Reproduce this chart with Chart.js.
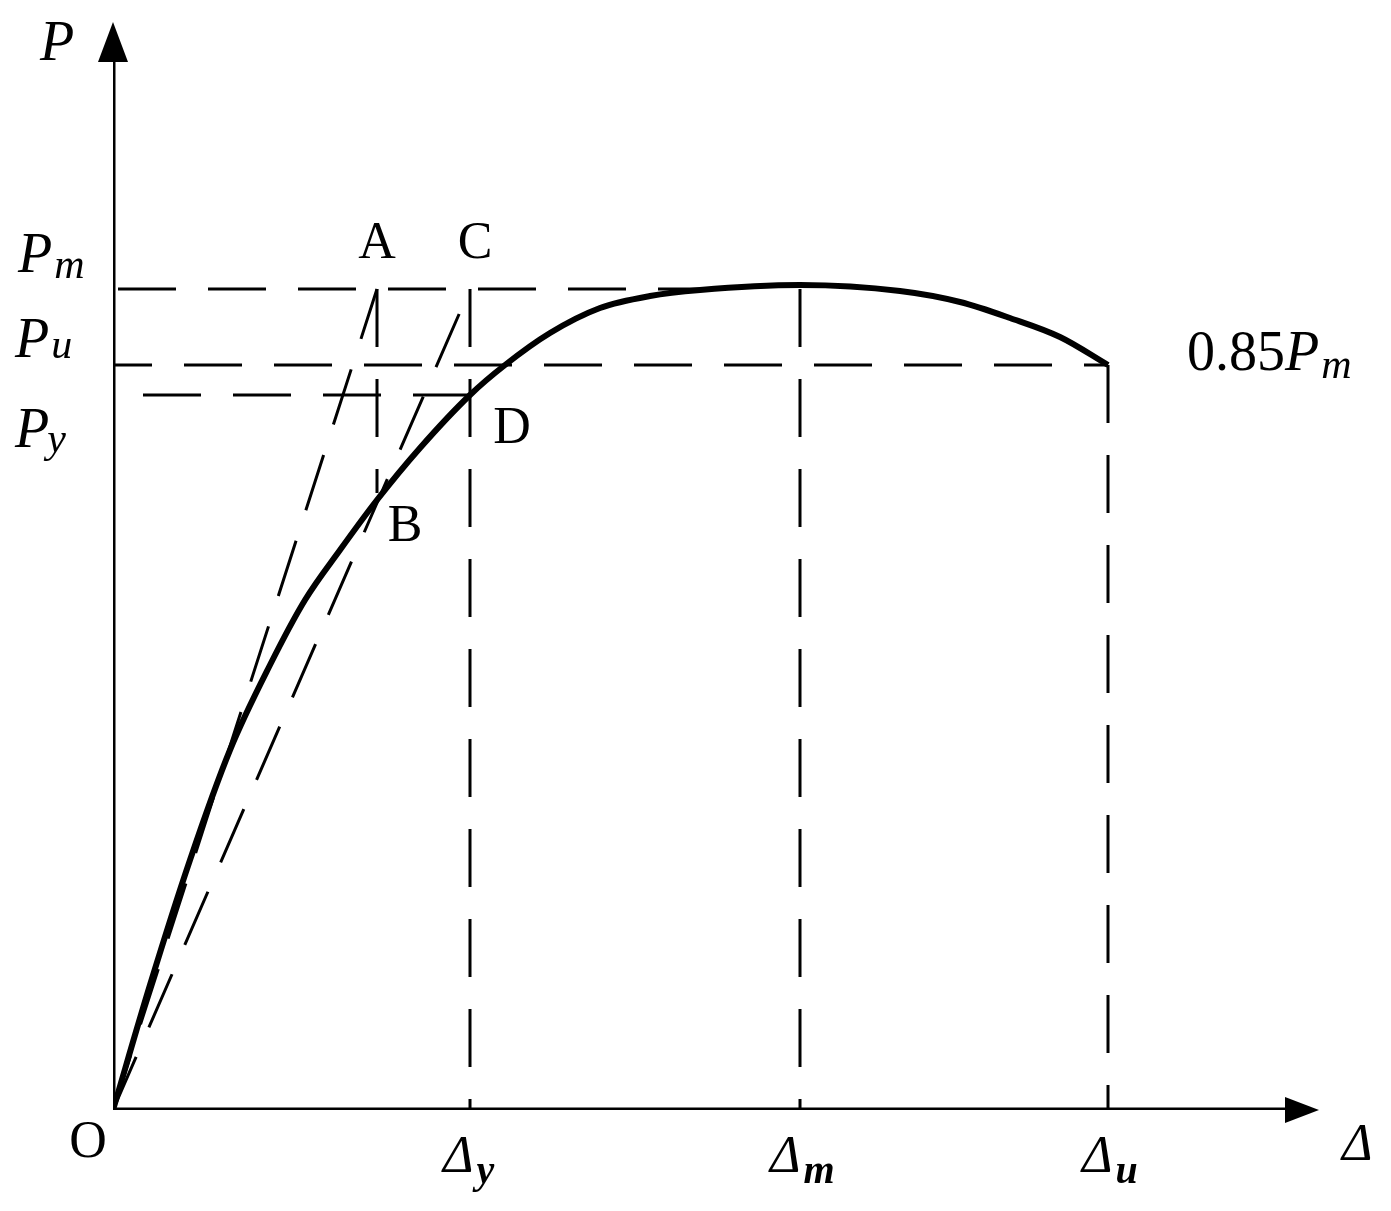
<!DOCTYPE html>
<html>
<head>
<meta charset="utf-8">
<script src="https://cdn.jsdelivr.net/npm/chart.js@4"></script>
<style>
  body { margin: 0; background: #fff; }
  canvas { display: block; }
</style>
</head>
<body>
<canvas id="chart" width="1391" height="1211"></canvas>
<script>
// skeleton curve (displacement, load)
const curveX = [0, 37, 77, 117, 157, 192, 227, 264, 307, 357, 392, 437, 487, 537, 587, 687, 787, 847, 897, 947, 995];
const curveY = [0, 125, 250, 360, 445, 510, 560, 610, 662, 715, 745, 777, 802, 814, 820, 825, 819, 808, 792, 773, 745];

// characteristic displacements and loads
const dispA = 264;   // A / B
const dispY = 357;   // Δy
const dispM = 687;   // Δm
const dispU = 995;   // Δu
const loadM = 821;   // Pm
const loadU = 745;   // Pu = 0.85Pm
const loadY = 715;   // Py
const loadB = 617;   // B
const loadSecC = 800;

// axis extents
const axisX = [0, 1175];
const axisY = [0, 1050];
const xMax = 1207;
const yMax = 1090;

const labels = {
  p: 'P', a: 'A', b: 'B', c: 'C', d: 'D', o: 'O',
  coef: '0.85', delta: 'Δ'
};

function seg(x1, y1, x2, y2) {
  return [{ x: x1, y: y1 }, { x: x2, y: y2 }];
}

const dash = { borderColor: '#000', borderWidth: 3, borderDash: [58, 32], pointRadius: 0, showLine: true, fill: false };

const datasets = [
  { data: curveX.map((x, i) => ({ x: x, y: curveY[i] })), borderColor: '#000', borderWidth: 6,
    cubicInterpolationMode: 'monotone', pointRadius: 0, showLine: true, fill: false },
  Object.assign({ data: seg(5, loadM, 607, loadM) }, dash),
  Object.assign({ data: seg(0, loadU, dispU, loadU), borderDashOffset: 19 }, dash),
  Object.assign({ data: seg(30, loadY, dispY, loadY) }, dash),
  Object.assign({ data: seg(dispA, loadM, dispA, loadB) }, dash),
  Object.assign({ data: seg(dispY, loadM, dispY, 0) }, dash),
  Object.assign({ data: seg(dispM, loadM, dispM, 0) }, dash),
  Object.assign({ data: seg(dispU, loadU, dispU, 0) }, dash),
  Object.assign({ data: seg(0, 0, dispA, loadM) }, dash),
  Object.assign({ data: seg(0, 0, dispY * loadSecC / loadM, loadSecC) }, dash),
  { data: seg(axisX[0], 0, axisX[1], 0), borderColor: '#000', borderWidth: 5, pointRadius: 0, showLine: true },
  { data: seg(0, axisY[0], 0, axisY[1]), borderColor: '#000', borderWidth: 5, pointRadius: 0, showLine: true }
];

function drawParts(ctx, x, y, parts) {
  parts.forEach(p => {
    ctx.font = p.font;
    ctx.fillText(p.t, x + (p.dx || 0), y + (p.dy || 0));
    x += ctx.measureText(p.t).width + (p.dx || 0);
  });
}

const annotate = {
  id: 'annotate',
  afterDatasetsDraw(chart) {
    const ctx = chart.ctx;
    const X = v => chart.scales.x.getPixelForValue(v);
    const Y = v => chart.scales.y.getPixelForValue(v);
    ctx.save();
    ctx.fillStyle = '#000';

    // arrow heads
    ctx.beginPath();
    ctx.moveTo(X(xMax) - 1, Y(0));
    ctx.lineTo(X(axisX[1]) - 3, Y(0) - 13);
    ctx.lineTo(X(axisX[1]) - 3, Y(0) + 13);
    ctx.closePath();
    ctx.fill();
    ctx.beginPath();
    ctx.moveTo(X(0), Y(yMax) + 2);
    ctx.lineTo(X(0) - 15, Y(axisY[1]) + 2);
    ctx.lineTo(X(0) + 15, Y(axisY[1]) + 2);
    ctx.closePath();
    ctx.fill();

    const serif = '"Liberation Serif", "DejaVu Serif", serif';
    const pFont = 'italic 56px ' + serif;
    const subFont = 'italic 42px ' + serif;
    const letFont = '52px ' + serif;
    const dFont = 'italic 52px ' + serif;
    const dSub = 'italic bold 40px ' + serif;
    ctx.textBaseline = 'alphabetic';
    ctx.textAlign = 'left';

    drawParts(ctx, X(0) - 73, Y(axisY[1]), [{ t: labels.p, font: pFont }]);
    drawParts(ctx, X(0) - 95, Y(loadM) - 17, [{ t: labels.p, font: pFont }, { t: 'm', font: subFont, dy: 6, dx: 2 }]);
    drawParts(ctx, X(0) - 98, Y(loadU) - 8, [{ t: labels.p, font: pFont }, { t: 'u', font: subFont, dy: 1, dx: 2 }]);
    drawParts(ctx, X(0) - 98, Y(loadY) + 52, [{ t: labels.p, font: pFont }, { t: 'y', font: subFont, dy: 5, dx: -2 }]);
    drawParts(ctx, X(dispU) + 79, Y(loadU) + 5, [{ t: labels.coef, font: '56px ' + serif }, { t: labels.p, font: pFont },
      { t: 'm', font: subFont, dy: 8, dx: 2 }]);

    ctx.textAlign = 'center';
    ctx.font = letFont;
    ctx.fillText(labels.a, X(dispA), Y(loadM) - 31);
    ctx.fillText(labels.c, X(dispY) + 5, Y(loadM) - 31);
    ctx.fillText(labels.d, X(dispY) + 42, Y(loadY) + 48);
    ctx.fillText(labels.b, X(dispA) + 28, Y(loadB) + 48);
    ctx.fillText(labels.o, X(0) - 25, Y(0) + 47);

    ctx.textAlign = 'left';
    drawParts(ctx, X(dispY) - 27, Y(0) + 62, [{ t: labels.delta, font: dFont }, { t: 'y', font: dSub, dy: 11, dx: 3 }]);
    drawParts(ctx, X(dispM) - 30, Y(0) + 62, [{ t: labels.delta, font: dFont }, { t: 'm', font: dSub, dy: 11, dx: 3 }]);
    drawParts(ctx, X(dispU) - 26, Y(0) + 62, [{ t: labels.delta, font: dFont }, { t: 'u', font: dSub, dy: 11, dx: 3 }]);
    drawParts(ctx, X(xMax) + 22, Y(0) + 50, [{ t: labels.delta, font: dFont }]);
    ctx.restore();
  }
};

new Chart(document.getElementById('chart').getContext('2d'), {
  type: 'scatter',
  data: { datasets: datasets },
  options: {
    responsive: false,
    animation: false,
    devicePixelRatio: 1,
    layout: { padding: { left: 113, right: 1391 - 1320, top: 20, bottom: 1211 - 1110 } },
    plugins: { legend: { display: false }, tooltip: { enabled: false } },
    scales: {
      x: { type: 'linear', min: 0, max: xMax, display: false },
      y: { type: 'linear', min: 0, max: yMax, display: false }
    }
  },
  plugins: [annotate]
});
</script>
</body>
</html>
